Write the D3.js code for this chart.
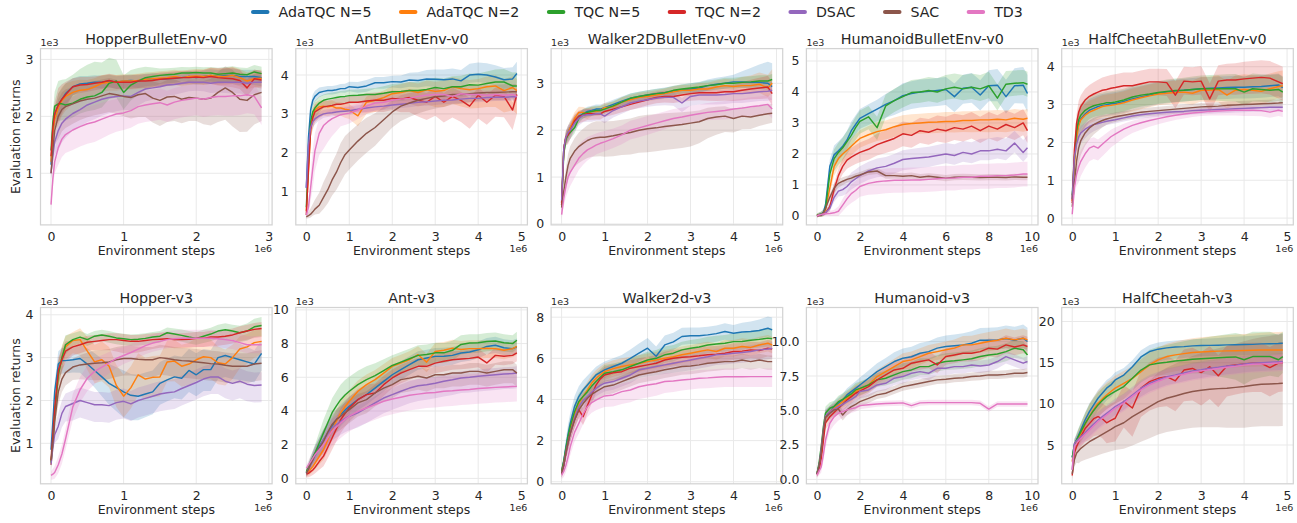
<!DOCTYPE html>
<html><head><meta charset="utf-8">
<script src="https://cdn.jsdelivr.net/npm/d3@7"></script>
<style>
body{margin:0;background:#fff}
svg{display:block}
text{font-family:"DejaVu Sans",sans-serif;fill:#262626}
</style>
</head><body>
<svg id="c" width="1297" height="523"></svg>
<script>
// ---------------- DATA ----------------
const seriesNames = ["AdaTQC N=5","AdaTQC N=2","TQC N=5","TQC N=2","DSAC","SAC","TD3"];
const seriesColors = ["#1f77b4","#ff7f0e","#2ca02c","#d62728","#9467bd","#8c564b","#e377c2"];
const envTitles = ["HopperBulletEnv-v0","AntBulletEnv-v0","Walker2DBulletEnv-v0","HumanoidBulletEnv-v0","HalfCheetahBulletEnv-v0",
                   "Hopper-v3","Ant-v3","Walker2d-v3","Humanoid-v3","HalfCheetah-v3"];

// environment steps (units of 1e6)
const steps3 = [0,0.025,0.05,0.1,0.15,0.2,0.3,0.4,0.5,0.6,0.7,0.8,0.9,1.0,1.1,1.2,1.3,1.4,1.5,1.6,1.7,1.8,1.9,2.0,2.1,2.2,2.3,2.4,2.5,2.6,2.7,2.8,2.9];
const steps5 = [0,0.05,0.1,0.15,0.2,0.3,0.4,0.5,0.6,0.7,0.8,0.9,1.0,1.2,1.4,1.6,1.8,2.0,2.2,2.4,2.6,2.8,3.0,3.2,3.4,3.6,3.8,4.0,4.2,4.4,4.6,4.8,4.9];
const steps10 = [0,0.1,0.2,0.3,0.4,0.6,0.8,1.0,1.2,1.4,1.6,1.8,2.0,2.4,2.8,3.2,3.6,4.0,4.4,4.8,5.2,5.6,6.0,6.4,6.8,7.2,7.6,8.0,8.4,8.8,9.2,9.6,9.8];
// steps where band spreads are given
const bandSteps3 = [0,0.1,0.3,0.6,1.0,1.5,2.0,2.5,2.9];
const bandSteps5 = [0,0.15,0.4,0.8,1.4,2.0,3.0,4.0,4.9];
const bandSteps10 = [0,0.3,0.8,1.6,2.8,4.0,6.0,8.0,9.8];

// tick values
const xTicks3 = [0,1,2,3], xTicks5 = [0,1,2,3,4,5], xTicks10 = [0,2,4,6,8,10];
const yTicksHopperBullet = [1,2,3];
const yTicksAntBullet = [1,2,3,4];
const yTicksWalkerBullet = [0,1,2,3];
const yTicksHumanoidBullet = [0,1,2,3,4,5];
const yTicksCheetahBullet = [0,1,2,3,4];
const yTicksHopper = [1,2,3,4];
const yTicksAnt = [0,2,4,6,8,10];
const yTicksWalker = [0,2,4,6,8];
const yTicksHumanoid = [0,2.5,5,7.5,10];
const yTicksCheetah = [5,10,15,20];

// mean returns (units of 1e3), rows in series order
const hopperBulletMean = [
 [1.15,1.7,2.0,2.2,2.3,2.4,2.52,2.57,2.58,2.6,2.6,2.62,2.6,2.62,2.63,2.62,2.65,2.66,2.65,2.66,2.67,2.68,2.7,2.68,2.7,2.72,2.7,2.72,2.72,2.7,2.7,2.7,2.68],
 [1.2,1.7,1.95,2.15,2.28,2.35,2.42,2.46,2.47,2.52,2.58,2.6,2.6,2.62,2.62,2.63,2.65,2.66,2.67,2.68,2.7,2.68,2.7,2.71,2.7,2.72,2.7,2.7,2.72,2.68,2.62,2.66,2.67],
 [1.4,1.9,2.18,2.22,2.22,2.2,2.23,2.3,2.34,2.36,2.42,2.58,2.62,2.42,2.55,2.62,2.68,2.7,2.72,2.73,2.74,2.76,2.76,2.77,2.76,2.76,2.74,2.75,2.76,2.74,2.73,2.78,2.75],
 [1.3,1.8,2.05,2.2,2.3,2.38,2.52,2.55,2.56,2.58,2.6,2.63,2.6,2.6,2.6,2.62,2.62,2.63,2.65,2.66,2.67,2.68,2.68,2.69,2.68,2.7,2.68,2.67,2.66,2.63,2.5,2.66,2.64],
 [1.0,1.3,1.55,1.75,1.88,1.95,2.05,2.12,2.2,2.25,2.3,2.33,2.35,2.36,2.35,2.42,2.48,2.5,2.52,2.55,2.56,2.58,2.6,2.6,2.6,2.58,2.6,2.6,2.6,2.6,2.58,2.6,2.6],
 [1.0,1.4,1.75,2.0,2.12,2.17,2.22,2.27,2.3,2.32,2.36,2.4,2.38,2.35,2.33,2.38,2.4,2.32,2.28,2.34,2.35,2.3,2.33,2.32,2.3,2.32,2.42,2.5,2.42,2.3,2.28,2.38,2.42],
 [0.45,0.9,1.2,1.45,1.6,1.68,1.76,1.82,1.87,1.9,1.95,2.0,2.04,2.06,2.1,2.17,2.2,2.22,2.24,2.2,2.25,2.28,2.3,2.32,2.3,2.33,2.35,2.35,2.36,2.36,2.38,2.35,2.15]
];
const hopperBulletLo = [
 [.1,.25,.15,.1,.12,.12,.12,.15,.15],[.1,.3,.2,.15,.15,.15,.15,.15,.15],[.1,.3,.25,.25,.3,.15,.15,.15,.15],
 [.1,.3,.15,.12,.12,.12,.12,.15,.15],[.1,.35,.3,.3,.25,.2,.15,.2,.2],[.1,.4,.35,.3,.35,.45,.4,.6,.5],[.1,.3,.35,.35,.3,.3,.3,.35,.3]
];
const hopperBulletHi = [
 [.1,.2,.15,.12,.1,.1,.1,.12,.12],[.1,.25,.2,.15,.12,.12,.12,.15,.15],[.1,.4,.5,.6,.3,.12,.1,.12,.12],
 [.1,.3,.15,.12,.12,.12,.12,.2,.15],[.1,.35,.3,.3,.25,.15,.15,.12,.12],[.1,.3,.3,.3,.25,.3,.3,.4,.35],[.1,.3,.3,.3,.25,.25,.25,.25,.2]
];

const antBulletMean = [
 [1.1,2.4,3.1,3.35,3.45,3.55,3.58,3.6,3.6,3.62,3.65,3.65,3.7,3.68,3.72,3.8,3.8,3.83,3.82,3.87,3.86,3.9,3.89,3.88,3.9,3.85,4.0,4.02,4.0,3.95,3.88,3.9,4.04],
 [0.5,1.5,2.6,2.95,3.1,3.18,3.2,3.18,3.2,3.15,3.15,3.12,3.1,2.95,3.3,3.35,3.42,3.52,3.55,3.6,3.55,3.62,3.58,3.6,3.7,3.65,3.62,3.65,3.7,3.72,3.6,3.68,3.6],
 [0.6,1.8,2.8,3.05,3.15,3.28,3.35,3.38,3.4,3.42,3.44,3.45,3.47,3.48,3.5,3.5,3.53,3.57,3.58,3.6,3.6,3.63,3.68,3.65,3.7,3.7,3.75,3.74,3.78,3.82,3.82,3.72,3.72],
 [0.4,1.6,2.6,2.9,3.05,3.12,3.18,3.2,3.22,3.25,3.25,3.27,3.3,3.3,3.33,3.35,3.35,3.4,3.38,3.42,3.35,3.3,3.45,3.3,3.45,3.35,3.2,3.48,3.3,3.48,3.45,3.1,3.5],
 [1.1,2.2,2.65,2.8,2.87,2.95,3.0,3.02,3.03,3.05,3.06,3.07,3.08,3.12,3.15,3.18,3.2,3.23,3.25,3.27,3.3,3.31,3.33,3.35,3.36,3.38,3.4,3.4,3.42,3.43,3.43,3.44,3.44],
 [0.35,0.38,0.42,0.48,0.55,0.65,0.85,1.05,1.3,1.5,1.75,1.95,2.07,2.3,2.5,2.65,2.85,3.05,3.2,3.28,3.35,3.4,3.44,3.46,3.5,3.5,3.52,3.54,3.55,3.55,3.56,3.57,3.57],
 [0.4,0.6,1.1,1.6,2.05,2.5,2.7,2.8,2.88,2.93,2.98,3.0,3.02,3.1,3.2,3.28,3.3,3.35,3.38,3.4,3.45,3.48,3.5,3.5,3.45,3.52,3.5,3.5,3.48,3.5,3.48,3.5,3.45]
];
const antBulletLo = [
 [.1,.15,.1,.1,.15,.15,.2,.2,.25],[.1,.3,.25,.2,.3,.3,.4,.5,.6],[.1,.3,.2,.2,.2,.25,.25,.3,.3],
 [.1,.3,.2,.2,.3,.3,.5,.6,.5],[.1,.15,.1,.1,.1,.1,.1,.1,.1],[.05,.1,.3,.5,.5,.4,.3,.2,.2],[.05,.5,.6,.3,.2,.15,.12,.12,.12]
];
const antBulletHi = [
 [.1,.15,.12,.12,.15,.15,.25,.3,.3],[.1,.2,.15,.15,.15,.2,.25,.25,.3],[.1,.2,.15,.15,.15,.2,.25,.3,.35],
 [.1,.2,.15,.15,.2,.2,.25,.2,.2],[.1,.1,.1,.1,.1,.1,.1,.1,.1],[.05,.2,.4,.5,.4,.3,.2,.2,.2],[.05,.5,.3,.2,.15,.12,.12,.12,.12]
];

const walkerBulletMean = [
 [0.45,1.6,1.85,1.95,2.05,2.2,2.3,2.35,2.4,2.42,2.45,2.45,2.48,2.55,2.62,2.68,2.72,2.75,2.78,2.8,2.83,2.86,2.88,2.9,2.95,2.98,3.0,3.03,3.03,3.02,3.02,3.0,2.93],
 [0.45,1.6,1.85,1.95,2.05,2.25,2.38,2.38,2.35,2.4,2.4,2.42,2.48,2.5,2.6,2.65,2.7,2.72,2.75,2.78,2.82,2.85,2.85,2.88,2.88,2.92,2.95,2.93,2.95,2.95,2.98,2.9,3.0],
 [0.4,1.5,1.8,1.9,1.95,2.05,2.25,2.35,2.38,2.4,2.42,2.42,2.45,2.52,2.6,2.68,2.72,2.75,2.78,2.8,2.85,2.88,2.9,2.92,2.95,2.97,3.0,3.0,3.02,3.03,3.05,3.05,3.08],
 [0.4,1.6,1.85,1.9,2.0,2.2,2.3,2.32,2.35,2.35,2.35,2.35,2.4,2.45,2.5,2.55,2.6,2.65,2.7,2.72,2.72,2.75,2.78,2.8,2.8,2.8,2.82,2.82,2.85,2.88,2.9,2.92,2.78],
 [0.5,1.6,1.85,1.95,2.0,2.15,2.25,2.32,2.33,2.33,2.35,2.35,2.3,2.42,2.5,2.58,2.62,2.65,2.68,2.7,2.7,2.58,2.72,2.75,2.75,2.75,2.76,2.78,2.78,2.8,2.82,2.83,2.85],
 [0.35,0.7,1.0,1.25,1.4,1.55,1.65,1.72,1.78,1.82,1.84,1.85,1.85,1.88,1.92,1.95,2.0,2.03,2.05,2.08,2.1,2.12,2.15,2.18,2.25,2.28,2.3,2.25,2.3,2.28,2.32,2.35,2.36],
 [0.2,0.55,0.8,1.0,1.1,1.25,1.4,1.5,1.58,1.63,1.68,1.72,1.75,1.82,1.9,2.0,2.05,2.1,2.15,2.2,2.25,2.28,2.32,2.35,2.38,2.4,2.42,2.45,2.47,2.5,2.52,2.55,2.45]
];
const walkerBulletLo = [
 [.1,.15,.1,.1,.1,.1,.1,.12,.15],[.1,.15,.12,.1,.1,.1,.12,.15,.2],[.1,.15,.1,.1,.1,.1,.1,.12,.12],
 [.1,.2,.15,.12,.12,.12,.15,.2,.25],[.1,.2,.15,.15,.15,.15,.2,.2,.2],[.1,.3,.35,.4,.45,.5,.5,.3,.2],[.1,.3,.25,.2,.2,.2,.15,.2,.2]
];
const walkerBulletHi = [
 [.1,.15,.1,.1,.1,.1,.12,.15,.5],[.1,.15,.12,.1,.1,.1,.12,.15,.3],[.1,.15,.1,.1,.1,.1,.1,.12,.12],
 [.1,.15,.12,.1,.1,.12,.12,.15,.25],[.1,.15,.12,.12,.12,.12,.1,.1,.1],[.1,.25,.3,.35,.3,.3,.25,.2,.2],[.1,.3,.3,.25,.2,.2,.2,.2,.2]
];

const humanoidBulletMean = [
 [0.03,0.04,0.06,0.12,0.35,1.6,1.97,2.1,2.25,2.45,2.75,2.95,3.15,3.3,3.45,3.6,3.72,3.88,3.95,4.0,4.02,4.05,4.08,3.85,4.12,4.15,3.9,4.2,4.22,3.85,4.2,4.22,3.95],
 [0.02,0.04,0.05,0.08,0.2,0.9,1.6,1.85,2.0,2.12,2.25,2.38,2.5,2.62,2.72,2.78,2.88,2.95,2.98,3.0,3.02,3.03,3.05,3.05,3.08,3.08,3.1,3.1,3.12,3.1,3.15,3.12,3.15],
 [0.02,0.04,0.06,0.1,0.25,1.35,1.85,2.05,2.2,2.4,2.6,2.85,3.05,3.2,2.85,3.55,3.72,3.85,3.98,4.0,4.05,4.0,4.1,4.15,4.1,4.15,4.1,4.2,3.8,4.25,4.28,4.3,4.25],
 [0.0,0.02,0.04,0.06,0.1,0.3,0.85,1.3,1.6,1.8,1.9,1.98,2.05,2.15,2.3,2.4,2.5,2.65,2.6,2.75,2.7,2.8,2.75,2.85,2.8,2.9,2.75,2.9,2.8,2.95,2.85,3.0,2.75],
 [0.0,0.02,0.03,0.05,0.1,0.25,0.6,0.8,0.85,0.95,1.1,1.2,1.3,1.45,1.55,1.6,1.7,1.82,1.85,1.88,1.9,1.95,2.0,1.95,2.05,2.0,2.1,2.1,2.15,2.1,2.35,2.05,2.2],
 [0.0,0.02,0.03,0.1,0.25,0.6,0.9,1.05,1.12,1.18,1.22,1.28,1.32,1.42,1.45,1.3,1.3,1.28,1.3,1.25,1.28,1.25,1.22,1.25,1.26,1.25,1.24,1.25,1.25,1.24,1.26,1.25,1.25],
 [0.0,0.03,0.05,0.06,0.07,0.08,0.1,0.15,0.35,0.55,0.72,0.82,0.95,1.05,1.1,1.13,1.15,1.15,1.16,1.16,1.18,1.2,1.22,1.22,1.25,1.25,1.28,1.28,1.3,1.3,1.32,1.35,1.35]
];
const humanoidBulletLo = [
 [.05,.1,.3,.3,.4,.5,.5,.5,.6],[.05,.1,.3,.3,.3,.35,.35,.4,.4],[.05,.1,.4,.4,.4,.35,.35,.4,.4],
 [.05,.05,.2,.3,.35,.4,.4,.4,.4],[.05,.05,.15,.25,.3,.35,.3,.3,.3],[.05,.05,.15,.1,.1,.1,.1,.1,.1],[.05,.05,.1,.3,.4,.4,.4,.4,.4]
];
const humanoidBulletHi = [
 [.05,.1,.3,.3,.3,.4,.4,.5,.6],[.05,.1,.2,.25,.3,.3,.3,.3,.3],[.05,.1,.3,.35,.35,.4,.45,.45,.4],
 [.05,.05,.2,.3,.35,.4,.45,.45,.45],[.05,.05,.2,.3,.3,.3,.35,.4,.4],[.05,.05,.15,.1,.1,.1,.1,.1,.1],[.05,.05,.1,.3,.4,.4,.4,.4,.4]
];

const cheetahBulletMean = [
 [0.5,1.5,2.2,2.5,2.62,2.75,2.85,2.9,2.95,2.98,3.0,3.02,3.03,3.08,3.15,3.2,3.25,3.3,3.33,3.36,3.38,3.4,3.42,3.43,3.44,3.45,3.46,3.46,3.47,3.48,3.5,3.52,3.45],
 [0.45,1.4,2.1,2.45,2.6,2.72,2.8,2.85,2.9,2.95,2.97,2.98,3.0,3.05,3.12,3.18,3.23,3.28,3.3,3.32,3.33,3.3,3.38,3.38,3.4,3.25,3.38,3.4,3.38,3.35,3.42,3.48,3.5],
 [0.6,1.6,2.3,2.6,2.72,2.85,2.92,2.97,3.0,3.02,3.05,3.05,3.07,3.12,3.2,3.25,3.28,3.32,3.35,3.37,3.38,3.4,3.42,3.42,3.42,3.42,3.42,3.33,3.42,3.4,3.38,3.4,3.33],
 [0.4,1.8,2.5,2.8,2.95,3.12,3.22,3.28,3.33,3.38,3.4,3.43,3.45,3.5,3.5,3.55,3.6,3.6,3.58,3.25,3.62,3.6,3.62,3.15,3.62,3.65,3.65,3.68,3.7,3.72,3.7,3.6,3.55],
 [0.5,1.6,1.95,2.15,2.25,2.35,2.42,2.47,2.5,2.53,2.56,2.58,2.6,2.65,2.7,2.73,2.76,2.78,2.8,2.81,2.82,2.84,2.85,2.86,2.87,2.88,2.89,2.9,2.91,2.92,2.93,2.93,2.93],
 [0.3,0.9,1.5,1.85,2.05,2.25,2.38,2.47,2.53,2.58,2.62,2.65,2.68,2.72,2.76,2.8,2.82,2.84,2.86,2.88,2.9,2.92,2.94,2.95,2.96,2.98,2.99,3.0,3.01,3.02,3.03,3.04,3.05],
 [0.1,0.8,1.15,1.35,1.5,1.7,1.85,1.9,1.85,1.95,2.05,2.15,2.22,2.35,2.45,2.52,2.58,2.63,2.68,2.72,2.75,2.78,2.8,2.82,2.83,2.84,2.85,2.85,2.85,2.84,2.8,2.85,2.82]
];
const cheetahBulletLo = [
 [.1,.4,.3,.3,.3,.3,.3,.3,.3],[.1,.4,.3,.3,.3,.3,.3,.4,.3],[.1,.4,.3,.3,.3,.3,.3,.35,.3],
 [.1,.4,.35,.35,.35,.35,.35,.4,.45],[.1,.3,.2,.1,.1,.1,.1,.1,.1],[.1,.4,.3,.15,.12,.12,.12,.12,.12],[.1,.4,.35,.3,.2,.15,.1,.15,.15]
];
const cheetahBulletHi = [
 [.1,.3,.3,.3,.3,.3,.3,.3,.3],[.1,.3,.3,.3,.3,.3,.35,.4,.4],[.1,.3,.3,.3,.3,.3,.35,.4,.4],
 [.1,.3,.3,.35,.35,.35,.4,.45,.45],[.1,.2,.15,.1,.08,.08,.08,.08,.08],[.1,.3,.2,.12,.1,.1,.1,.1,.1],[.1,.3,.25,.2,.12,.1,.1,.1,.1]
];

const hopperMean = [
 [0.85,1.5,2.2,2.85,2.93,2.93,2.95,2.98,2.85,2.7,2.55,2.4,2.3,2.2,2.12,2.1,2.15,2.2,2.4,2.48,2.55,2.52,2.7,2.6,2.72,2.72,3.0,3.05,3.0,2.95,2.9,2.85,3.1],
 [0.5,1.0,1.6,2.6,3.0,3.25,3.4,3.42,3.15,2.9,2.95,2.8,2.35,2.1,2.3,2.6,2.5,2.54,2.55,2.9,2.92,2.8,2.85,2.95,3.02,3.0,2.88,2.85,3.0,3.2,3.25,3.35,3.38],
 [0.55,1.0,1.7,2.6,3.0,3.3,3.42,3.48,3.42,3.5,3.53,3.5,3.46,3.44,3.42,3.43,3.45,3.48,3.5,3.58,3.55,3.52,3.48,3.45,3.5,3.55,3.62,3.65,3.62,3.58,3.62,3.72,3.75],
 [0.6,1.2,1.8,2.7,2.95,3.15,3.25,3.3,3.36,3.38,3.4,3.42,3.42,3.4,3.38,3.38,3.4,3.42,3.43,3.44,3.42,3.42,3.43,3.45,3.45,3.48,3.48,3.5,3.53,3.58,3.62,3.66,3.68],
 [0.5,0.9,1.2,1.4,1.7,1.86,1.93,2.0,1.95,1.9,1.9,1.88,1.95,1.98,1.92,2.0,2.05,2.1,2.15,2.18,2.2,2.28,2.35,2.42,2.5,2.55,2.55,2.45,2.4,2.45,2.38,2.35,2.36],
 [0.6,1.0,1.5,2.2,2.5,2.65,2.78,2.83,2.85,2.87,2.88,2.9,2.95,2.98,2.98,2.96,2.95,2.95,3.0,2.98,2.95,2.93,2.92,2.9,2.88,2.86,2.85,2.82,2.8,2.8,2.8,2.85,2.87],
 [0.25,0.28,0.32,0.5,0.75,1.1,1.85,2.25,2.52,2.68,2.78,2.88,2.98,3.05,3.12,3.2,3.28,3.34,3.38,3.42,3.44,3.45,3.45,3.45,3.45,3.45,3.44,3.42,3.4,3.35,3.3,3.3,3.3]
];
const hopperLo = [
 [.1,.3,.3,.4,.6,.5,.5,.5,.4],[.1,.3,.3,.5,.5,.45,.5,.5,.3],[.1,.3,.15,.15,.15,.15,.15,.2,.25],
 [.1,.3,.2,.2,.3,.2,.2,.2,.2],[.1,.3,.4,.4,.4,.4,.4,.4,.4],[.1,.3,.3,.4,.4,.4,.4,.4,.4],[.1,.2,.3,.3,.2,.2,.2,.2,.2]
];
const hopperHi = [
 [.1,.3,.3,.4,.5,.5,.5,.4,.3],[.1,.3,.2,.4,.5,.5,.5,.3,.3],[.1,.3,.15,.12,.12,.12,.15,.15,.2],
 [.1,.3,.15,.15,.15,.15,.15,.15,.15],[.1,.3,.3,.3,.3,.3,.3,.3,.3],[.1,.3,.2,.3,.3,.3,.3,.3,.3],[.1,.2,.3,.3,.2,.2,.2,.2,.2]
];

const antMean = [
 [0.3,0.6,0.9,1.2,1.5,1.9,2.3,2.7,3.1,3.45,3.79,4.05,4.28,4.67,4.97,5.36,5.76,6.15,6.45,6.75,7.04,7.14,7.24,7.25,7.3,7.44,7.5,7.63,7.83,7.9,7.75,7.7,7.8],
 [0.3,0.4,0.55,0.7,0.9,1.3,1.7,2.3,2.9,3.4,3.89,4.25,4.58,5.17,5.56,5.86,6.25,6.65,6.84,7.04,7.34,6.9,7.53,7.6,7.73,7.65,7.7,7.7,7.72,7.7,7.6,7.7,7.83],
 [0.4,0.7,1.0,1.25,1.5,2.1,2.7,3.3,3.9,4.3,4.67,4.95,5.17,5.56,5.86,6.1,6.4,6.7,6.9,7.1,7.3,7.35,7.45,7.45,7.6,7.95,8.03,8.05,8.12,8.15,8.05,8.0,8.2],
 [0.25,0.3,0.4,0.5,0.65,1.0,1.32,1.85,2.4,2.95,3.49,3.85,4.18,4.67,4.97,5.07,5.56,5.96,6.25,6.45,6.65,6.65,6.84,6.95,7.04,7.08,7.12,7.2,6.85,7.3,7.25,7.3,7.45],
 [0.3,0.55,0.8,1.05,1.3,1.8,2.3,2.65,3.0,3.2,3.39,3.55,3.69,3.89,4.18,4.48,4.77,4.97,5.17,5.36,5.5,5.56,5.65,5.76,5.85,5.96,6.0,6.06,6.1,6.15,6.2,6.22,6.25],
 [0.3,0.55,0.85,1.1,1.4,1.8,2.2,2.75,3.2,3.5,3.69,3.9,4.08,4.48,4.67,5.07,5.36,5.56,5.86,5.95,6.06,5.96,6.15,6.15,6.25,6.25,6.35,6.35,6.25,6.35,6.45,6.45,6.25],
 [0.6,0.8,1.0,1.2,1.4,1.7,2.0,2.4,2.8,3.05,3.29,3.5,3.69,3.98,4.18,4.38,4.58,4.71,4.82,4.93,5.0,5.07,5.1,5.17,5.2,5.25,5.28,5.33,5.36,5.4,5.42,5.45,5.46]
];
const antLo = [
 [.2,.4,.6,.7,.6,.6,.6,.5,.4],[.2,.3,.6,.7,.7,.6,.6,.6,.5],[.2,.4,.8,.9,.8,.7,.6,.6,.5],
 [.2,.3,.6,.8,.8,.6,.6,.6,.5],[.2,.4,.7,.8,.9,.9,.9,.9,.9],[.2,.4,.7,.8,.8,.8,.8,.8,.8],[.2,.4,.8,.9,.9,.9,.9,.9,.9]
];
const antHi = [
 [.2,.4,.6,.6,.5,.5,.5,.5,.5],[.2,.3,.6,.7,.6,.5,.5,.5,.4],[.2,.4,.8,.9,.8,.6,.6,.5,.5],
 [.2,.3,.6,.7,.6,.5,.5,.5,.4],[.2,.4,.6,.5,.4,.4,.4,.4,.4],[.2,.4,.7,.6,.5,.5,.5,.5,.5],[.2,.4,.6,.8,.9,.9,.9,.9,.9]
];

const walkerMean = [
 [0.5,1.0,1.7,2.3,2.84,3.65,4.14,4.46,4.7,4.95,5.19,5.32,5.44,5.6,5.76,6.0,6.25,6.49,6.1,6.65,6.8,7.06,7.1,7.1,7.14,7.2,7.3,7.22,7.28,7.3,7.35,7.46,7.38],
 [0.5,0.9,1.5,2.0,2.51,3.3,3.81,4.15,4.46,4.8,5.03,5.2,5.35,5.5,5.6,5.68,5.75,5.84,5.92,6.0,6.08,6.17,6.25,6.33,6.41,6.33,6.49,6.49,6.57,6.53,6.65,6.73,6.65],
 [0.5,1.0,1.6,2.2,2.68,3.4,3.9,4.15,4.38,4.65,4.87,5.08,5.27,5.35,5.44,5.6,5.76,5.92,6.0,6.17,6.25,6.41,6.49,6.55,6.65,6.7,6.73,6.81,6.82,6.88,6.92,6.98,6.95],
 [0.4,0.8,1.4,1.9,2.35,3.0,3.49,3.16,3.7,4.2,4.7,5.0,5.19,5.3,5.35,5.52,5.6,5.68,5.76,5.92,6.0,6.05,6.08,6.12,6.17,6.2,6.25,6.33,6.35,6.41,6.38,6.49,6.45],
 [0.4,0.8,1.4,1.9,2.35,3.1,3.65,3.95,4.14,4.35,4.54,4.68,4.79,4.87,5.03,5.19,5.44,5.52,5.6,5.68,5.76,5.84,5.92,6.0,6.08,6.17,6.2,6.25,6.28,6.33,6.41,6.45,6.49],
 [0.4,0.8,1.4,1.9,2.35,3.0,3.49,3.8,4.06,4.25,4.38,4.5,4.62,4.7,4.87,5.03,5.19,5.27,5.35,5.44,5.52,5.6,5.63,5.68,5.76,5.8,5.84,5.84,5.92,5.84,5.92,5.84,5.84],
 [0.32,0.5,0.8,1.2,1.7,2.4,2.84,3.3,3.65,3.85,3.97,4.08,4.17,4.22,4.38,4.46,4.62,4.7,4.76,4.87,4.9,4.95,4.98,5.03,5.05,5.08,5.1,5.11,5.1,5.11,5.11,5.11,5.11]
];
const walkerLo = [
 [.2,.5,.5,.4,.4,.4,.4,.4,.4],[.2,.4,.4,.4,.4,.4,.4,.4,.4],[.2,.4,.4,.4,.4,.4,.4,.4,.4],
 [.2,.4,.4,.4,.4,.4,.4,.4,.4],[.2,.4,.4,.4,.4,.4,.5,.5,.5],[.2,.4,.4,.4,.4,.4,.4,.4,.4],[.2,.4,.5,.5,.6,.6,.5,.5,.5]
];
const walkerHi = [
 [.2,.5,.5,.4,.4,.5,.4,.4,.6],[.2,.4,.4,.4,.4,.4,.4,.4,.4],[.2,.4,.4,.4,.4,.4,.4,.4,.5],
 [.2,.4,.4,.4,.4,.4,.4,.4,.4],[.2,.4,.4,.3,.3,.3,.3,.3,.3],[.2,.4,.3,.3,.3,.3,.3,.3,.3],[.2,.4,.4,.4,.4,.4,.4,.4,.4]
];

const humanoidMean = [
 [0.4,1.0,2.0,3.4,4.55,4.9,5.28,5.52,5.76,6.13,6.37,6.6,6.85,7.34,7.82,8.18,8.55,8.79,8.9,9.15,9.27,9.52,9.64,9.7,9.76,9.88,10.1,10.1,10.12,10.22,10.1,10.24,10.0],
 [0.4,0.9,1.8,3.2,4.45,4.9,5.15,5.4,5.65,5.88,6.1,6.37,6.55,6.85,7.46,7.82,8.18,8.55,8.67,8.91,9.15,9.27,9.4,9.52,9.76,9.76,9.88,10.0,10.1,10.24,10.12,10.24,10.12],
 [0.4,1.2,2.4,3.8,4.8,5.16,5.3,5.64,5.8,6.0,6.2,6.49,6.6,6.85,7.22,7.34,7.58,7.82,7.94,8.18,8.18,8.43,8.55,8.6,8.67,8.75,8.91,9.03,9.1,9.27,9.52,9.4,9.03],
 [0.35,0.7,1.5,2.8,4.1,4.55,4.85,5.16,5.45,5.76,6.0,6.25,6.4,6.73,7.22,7.58,7.94,8.06,8.43,8.55,8.67,8.3,8.91,9.03,9.15,9.15,9.27,9.52,9.45,9.76,9.6,9.76,9.64],
 [0.4,1.0,2.2,3.6,4.6,4.9,5.1,5.28,5.45,5.64,5.8,6.0,6.37,6.49,6.85,6.97,7.34,7.46,7.7,7.82,7.7,8.06,8.06,8.18,8.18,8.3,8.22,8.3,8.55,8.91,8.67,8.43,8.55],
 [0.4,1.0,2.0,3.5,4.5,4.8,5.04,5.1,4.67,5.04,5.28,5.45,5.64,5.88,6.13,6.25,6.49,6.73,6.85,6.97,7.1,7.22,7.26,7.34,7.38,7.46,7.5,7.58,7.58,7.62,7.7,7.7,7.75],
 [0.3,0.6,0.9,1.8,2.86,4.07,4.55,4.8,4.92,5.04,5.12,5.2,5.35,5.42,5.47,5.5,5.52,5.55,5.35,5.55,5.57,5.57,5.57,5.57,5.57,5.57,5.52,5.1,5.47,5.47,5.47,5.47,5.47]
];
const humanoidLo = [
 [.2,.5,.4,.5,.5,.6,.6,.7,.7],[.2,.5,.4,.5,.5,.6,.6,.7,.7],[.2,.5,.4,.5,.5,.6,.6,.7,.7],
 [.2,.5,.4,.5,.5,.6,.6,.6,.6],[.2,.5,.4,.5,.5,.5,.5,.5,.5],[.2,.5,.4,.4,.3,.3,.3,.3,.3],[.2,.5,.6,.3,.2,.2,.2,.2,.2]
];
const humanoidHi = [
 [.2,.5,.4,.5,.6,.7,.8,.9,1.0],[.2,.5,.4,.5,.5,.6,.6,.7,.7],[.2,.5,.4,.5,.5,.6,.6,.6,.6],
 [.2,.5,.4,.5,.5,.6,.6,.7,.7],[.2,.5,.4,.4,.4,.4,.4,.4,.4],[.2,.5,.4,.3,.3,.3,.3,.3,.3],[.2,.5,.3,.2,.2,.2,.2,.2,.2]
];

const cheetahMean = [
 [3.5,5.0,5.6,6.2,6.83,8.04,9.06,9.87,10.68,11.28,11.9,12.3,12.9,13.5,14.5,15.7,16.35,16.64,16.8,16.9,16.95,17.04,17.08,17.1,17.12,17.16,17.18,17.2,17.22,17.28,17.3,17.32,17.36],
 [3.0,4.8,5.4,5.9,6.42,7.5,8.45,9.3,10.07,10.6,11.08,11.5,11.9,12.5,13.1,13.9,14.73,15.34,15.74,15.95,16.1,16.23,16.3,16.35,16.4,16.43,16.45,16.47,16.5,16.55,16.55,16.55,16.55],
 [3.5,5.0,5.6,6.1,6.6,7.6,8.45,9.2,9.87,10.4,10.88,11.2,11.5,12.1,13.1,14.1,14.73,14.93,15.05,15.2,15.3,15.42,15.48,15.54,15.6,15.66,15.7,15.35,15.74,15.75,15.75,15.35,15.74],
 [1.3,4.0,4.8,5.4,6.0,7.0,7.6,8.2,8.45,8.2,7.7,8.0,8.25,10.3,9.5,11.9,12.7,13.1,13.3,12.8,14.1,14.3,13.8,14.5,13.4,14.6,14.73,14.85,14.93,14.93,14.4,14.95,15.0],
 [2.0,5.2,5.5,5.75,6.0,6.5,7.03,7.55,8.04,8.45,8.85,9.25,9.66,10.27,11.08,11.9,12.5,12.9,13.3,13.5,13.75,14.0,14.15,14.33,14.45,14.6,14.7,14.85,14.92,15.0,15.05,15.1,15.14],
 [1.5,3.2,4.0,4.3,4.6,5.0,5.4,5.7,6.0,6.3,6.6,6.9,7.23,7.7,8.45,9.06,9.66,10.27,10.68,10.96,11.25,11.5,11.65,11.77,11.85,11.9,12.0,12.1,12.25,12.38,12.42,12.46,12.5],
 [2.0,4.8,5.2,5.5,5.8,6.3,6.8,7.35,7.85,8.25,8.65,9.05,9.46,10.1,10.9,11.7,12.3,12.75,13.15,13.4,13.6,13.85,14.0,14.15,14.3,14.45,14.55,14.7,14.8,14.85,14.9,14.95,15.0]
];
const cheetahLo = [
 [.5,1.0,1.5,1.5,1.5,1.5,1.3,1.3,1.3],[.5,1.0,1.5,1.8,2.0,2.0,2.0,2.0,2.0],[.5,1.0,1.5,1.5,1.5,1.5,1.8,3.0,2.0],
 [.5,1.0,2.0,2.5,3.5,3.5,4.0,3.5,3.5],[.5,.8,1.0,1.0,1.0,1.0,1.0,1.0,1.0],[.5,1.5,2.0,2.5,3.5,4.0,4.5,5.0,5.2],[.5,.8,1.0,1.0,1.0,1.0,1.0,1.0,1.0]
];
const cheetahHi = [
 [.5,.8,1.0,1.0,.8,.8,.8,1.0,1.2],[.5,1.0,1.5,1.5,1.5,1.5,1.8,2.0,2.2],[.5,1.0,1.5,1.5,1.5,2.0,2.5,3.0,3.0],
 [.5,1.0,1.5,2.0,2.0,2.5,2.5,2.5,2.5],[.5,.8,1.0,1.0,1.0,1.0,1.0,1.0,1.0],[.5,1.0,1.5,2.0,2.5,3.5,4.5,5.5,6.0],[.5,.8,1.0,1.0,1.0,1.0,1.0,1.0,1.0]
];

// ---------------- LAYOUT ----------------
const panels = [
 {steps:steps3, band:bandSteps3, mean:hopperBulletMean, lo:hopperBulletLo, hi:hopperBulletHi, xt:xTicks3, yt:yTicksHopperBullet, xd:[-0.145,3.045], yd:[0.093,3.19]},
 {steps:steps5, band:bandSteps5, mean:antBulletMean, lo:antBulletLo, hi:antBulletHi, xt:xTicks5, yt:yTicksAntBullet, xd:[-0.245,5.145], yd:[0.144,4.68]},
 {steps:steps5, band:bandSteps5, mean:walkerBulletMean, lo:walkerBulletLo, hi:walkerBulletHi, xt:xTicks5, yt:yTicksWalkerBullet, xd:[-0.245,5.145], yd:[-0.02,3.74]},
 {steps:steps10, band:bandSteps10, mean:humanoidBulletMean, lo:humanoidBulletLo, hi:humanoidBulletHi, xt:xTicks10, yt:yTicksHumanoidBullet, xd:[-0.49,10.29], yd:[-0.29,5.4]},
 {steps:steps5, band:bandSteps5, mean:cheetahBulletMean, lo:cheetahBulletLo, hi:cheetahBulletHi, xt:xTicks5, yt:yTicksCheetahBullet, xd:[-0.245,5.145], yd:[-0.18,4.48]},
 {steps:steps3, band:bandSteps3, mean:hopperMean, lo:hopperLo, hi:hopperHi, xt:xTicks3, yt:yTicksHopper, xd:[-0.145,3.045], yd:[0.055,4.17]},
 {steps:steps5, band:bandSteps5, mean:antMean, lo:antLo, hi:antHi, xt:xTicks5, yt:yTicksAnt, xd:[-0.245,5.145], yd:[-0.32,10.14]},
 {steps:steps5, band:bandSteps5, mean:walkerMean, lo:walkerLo, hi:walkerHi, xt:xTicks5, yt:yTicksWalker, xd:[-0.245,5.145], yd:[-0.1,8.47]},
 {steps:steps10, band:bandSteps10, mean:humanoidMean, lo:humanoidLo, hi:humanoidHi, xt:xTicks10, yt:yTicksHumanoid, xd:[-0.49,10.29], yd:[-0.32,12.47], fmt:".1f"},
 {steps:steps5, band:bandSteps5, mean:cheetahMean, lo:cheetahLo, hi:cheetahHi, xt:xTicks5, yt:yTicksCheetah, xd:[-0.245,5.145], yd:[0.29,21.7]}
];

const PW = 231.6, PH = 176.3;
const rowTop = [48.6, 307.5];
const colLeft = c => 40.5 + c*255.3;
const gridColor = "#e9e9e9", spineColor = "#d3d3d3";

function interp(xs, ys, t){
  if (t <= xs[0]) return ys[0];
  for (let i=1;i<xs.length;i++){
    if (t <= xs[i]){ const f=(t-xs[i-1])/(xs[i]-xs[i-1]); return ys[i-1]+f*(ys[i]-ys[i-1]); }
  }
  return ys[ys.length-1];
}

const svg = d3.select("#c");
svg.append("rect").attr("width",1297).attr("height",523).attr("fill","#fff");
const defs = svg.append("defs");

panels.forEach((p, k) => {
  const col = k % 5, row = Math.floor(k/5);
  const x0 = colLeft(col), y0 = rowTop[row];
  const x = d3.scaleLinear().domain(p.xd).range([x0, x0+PW]);
  const y = d3.scaleLinear().domain(p.yd).range([y0+PH, y0]);
  const g = svg.append("g");

  // grid
  g.append("g").selectAll("line").data(p.xt).join("line")
    .attr("x1", d=>x(d)).attr("x2", d=>x(d)).attr("y1", y0).attr("y2", y0+PH)
    .attr("stroke", gridColor).attr("stroke-width", 1);
  g.append("g").selectAll("line").data(p.yt).join("line")
    .attr("x1", x0).attr("x2", x0+PW).attr("y1", d=>y(d)).attr("y2", d=>y(d))
    .attr("stroke", gridColor).attr("stroke-width", 1);

  const clipId = "clip" + k;
  defs.append("clipPath").attr("id", clipId).append("rect")
    .attr("x", x0).attr("y", y0).attr("width", PW).attr("height", PH);
  const plot = g.append("g").attr("clip-path", `url(#${clipId})`);

  const n = p.steps.length;
  // bands
  p.mean.forEach((m, s) => {
    const pts = p.steps.slice(0, Math.min(n, m.length)).map((t, i) => ({
      t, m: m[i], dl: interp(p.band, p.lo[s], t), dh: interp(p.band, p.hi[s], t)
    }));
    plot.append("path").datum(pts)
      .attr("d", d3.area().x(d=>x(d.t)).y0(d=>y(d.m-d.dl)).y1(d=>y(d.m+d.dh)))
      .attr("fill", seriesColors[s]).attr("fill-opacity", 0.2).attr("stroke", "none");
  });
  // lines
  p.mean.forEach((m, s) => {
    const pts = p.steps.slice(0, Math.min(n, m.length)).map((t, i) => ({t, v: m[i]}));
    plot.append("path").datum(pts)
      .attr("d", d3.line().x(d=>x(d.t)).y(d=>y(d.v)))
      .attr("fill", "none").attr("stroke", seriesColors[s]).attr("stroke-width", 1.45)
      .attr("stroke-linejoin", "round");
  });

  // frame
  g.append("rect").attr("x", x0).attr("y", y0).attr("width", PW).attr("height", PH)
    .attr("fill", "none").attr("stroke", spineColor).attr("stroke-width", 1.25);

  // axes
  const xa = g.append("g").attr("transform", `translate(0,${y0+PH})`)
    .call(d3.axisBottom(x).tickValues(p.xt).tickFormat(d3.format("d")).tickSize(0).tickPadding(7.6));
  const ya = g.append("g").attr("transform", `translate(${x0},0)`)
    .call(d3.axisLeft(y).tickValues(p.yt).tickFormat(d3.format(p.fmt || "d")).tickSize(0).tickPadding(7));
  [xa, ya].forEach(a => {
    a.select(".domain").remove();
    a.selectAll("text").attr("fill", "#262626").style("font-size", "12.5px").style("font-family", '"DejaVu Sans",sans-serif');
  });

  // titles / labels
  g.append("text").attr("x", x0 + PW/2).attr("y", y0 - 4.5).attr("text-anchor", "middle")
    .style("font-size", "14.3px").text(envTitles[k]);
  g.append("text").attr("x", x0).attr("y", y0 - 2.5).style("font-size", "9.5px").text("1e3");
  g.append("text").attr("x", x0 + PW).attr("y", y0 + PH + 27.5).attr("text-anchor", "end")
    .style("font-size", "9.5px").text("1e6");
  g.append("text").attr("x", x0 + PW/2).attr("y", y0 + PH + 30.5).attr("text-anchor", "middle")
    .style("font-size", "12.5px").text("Environment steps");
  if (col === 0) {
    g.append("text").attr("transform", `translate(19.5,${y0 + PH/2}) rotate(-90)`)
      .attr("text-anchor", "middle").style("font-size", "12.5px").text("Evaluation returns");
  }
});

// legend
const leg = svg.append("g");
let lx = 251;
seriesNames.forEach((name, i) => {
  leg.append("line").attr("x1", lx + 2).attr("x2", lx + 16.5).attr("y1", 12).attr("y2", 12)
    .attr("stroke", seriesColors[i]).attr("stroke-width", 4).attr("stroke-linecap", "round");
  const t = leg.append("text").attr("x", lx + 27.5).attr("y", 17).style("font-size", "14.2px").text(name);
  lx += 27.5 + t.node().getComputedTextLength() + 27.5;
});
</script>
</body></html>
